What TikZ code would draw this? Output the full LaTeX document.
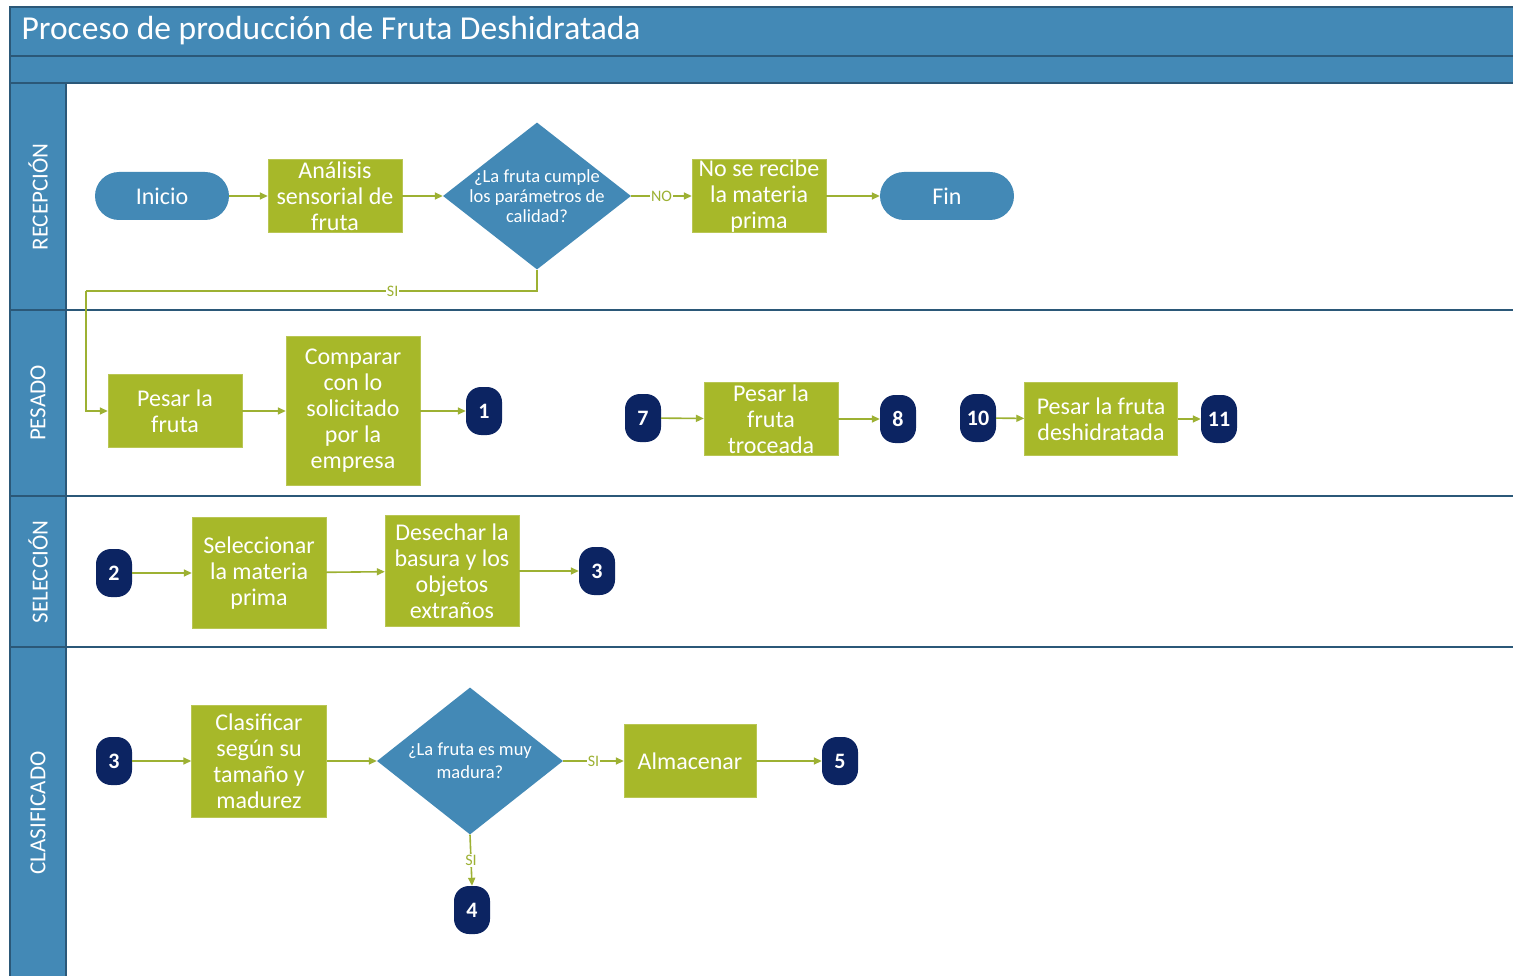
\documentclass[tikz,border=0pt]{standalone}
\usepackage{fontspec}
\setmainfont{Carlito}
\usetikzlibrary{shapes.geometric,arrows.meta,positioning}
\definecolor{hdr}{HTML}{4389B6}
\definecolor{bord}{HTML}{2B5878}
\definecolor{grn}{HTML}{A7B829}
\definecolor{lgrn}{HTML}{9DB133}
\definecolor{navy}{HTML}{0C2462}
\tikzset{
  proc/.style={rectangle, fill=grn, draw=grn!80!white, text=white, align=center, inner sep=0pt,
    font=\fontsize{24}{26}\selectfont},
  term/.style={rectangle, rounded corners=24pt, fill=hdr, text=white, minimum width=134pt, minimum height=48pt,
    inner sep=0pt, font=\fontsize{24}{26}\selectfont},
  dec/.style={diamond, fill=hdr, minimum width=188pt, minimum height=147pt, inner sep=0pt},
  dectext/.style={text=white, align=center, font=\fontsize{18.5}{20}\selectfont},
  offc/.style={rectangle, rounded corners=15pt, fill=navy, text=white, minimum width=36pt, minimum height=48pt,
    inner sep=0pt, font=\bfseries\fontsize{22}{24}\selectfont},
  flow/.style={draw=lgrn, line width=1.6pt, -{Triangle[length=8pt,width=7pt]}},
  line/.style={draw=lgrn, line width=1.6pt},
  lbl/.style={fill=white, text=lgrn, inner sep=1pt, font=\fontsize{16}{16}\selectfont},
  lane/.style={text=white, rotate=90, font=\fontsize{23}{23}\selectfont}
}
\begin{document}
\begin{tikzpicture}[x=1pt,y=-1pt]
\useasboundingbox (0,0) rectangle (1513,976);
\fill[white] (0,0) rectangle (1513,976);
% header bars
\fill[hdr] (10,7) rectangle (1513,83);
\fill[hdr] (10,83) rectangle (66,976);
\draw[bord, line width=1.5pt] (10,56) -- (1513,56);
\draw[bord, line width=2pt] (10,83) -- (1513,83);
\draw[bord, line width=2pt] (10,310) -- (1513,310);
\draw[bord, line width=2pt] (10,496) -- (1513,496);
\draw[bord, line width=2pt] (10,647) -- (1513,647);
\draw[bord, line width=2pt] (66,83) -- (66,976);
\draw[bord, line width=1.5pt] (10,976) -- (10,7) -- (1513,7);
\node[anchor=west, text=white, font=\fontsize{33.5}{33.5}\selectfont] (title) at (18,31) {Proceso de producción de Fruta Deshidratada};
% lane labels
\node[lane] (l1) at (38,197) {RECEPCIÓN};
\node[lane] (l2) at (38,403) {PESADO};
\node[lane] (l3) at (38,572) {SELECCIÓN};
\node[lane] (l4) at (38,813) {CLASIFICADO};
% RECEPCION
\node[term] (inicio) at (162,196) {Inicio};
\node[proc, minimum width=134pt, minimum height=73pt] (anal) at (335,196) {Análisis\\sensorial de\\fruta};
\node[dec] (d1) at (537,196) {};
\node[dectext] (d1t) at (537,196) {¿La fruta cumple\\los parámetros de\\calidad?};
\node[proc, minimum width=134pt, minimum height=73pt] (nosr) at (759,196) {No se recibe\\la materia\\prima};
\node[term] (fin) at (947,196) {Fin};
\coordinate (c1) at (86,291);
% PESADO
\node[proc, minimum width=134pt, minimum height=73pt] (pesar) at (175,411) {Pesar la\\fruta};
\node[proc, minimum width=134pt, minimum height=149pt] (comp) at (353,411) {Comparar\\con lo\\solicitado\\por la\\empresa};
\node[offc] (o1) at (484,411) {1};
\node[offc] (o7) at (643,418) {7};
\node[proc, minimum width=134pt, minimum height=73pt] (ptro) at (771,419) {Pesar la\\fruta\\troceada};
\node[offc] (o8) at (898,419) {8};
\node[offc] (o10) at (978,418) {10};
\node[proc, minimum width=153pt, minimum height=73pt] (pdes) at (1101,419) {Pesar la fruta\\deshidratada};
\node[offc] (o11) at (1219,419) {11};
% SELECCION
\node[offc] (o2) at (114,573) {2};
\node[proc, minimum width=134pt, minimum height=111pt] (sel) at (259,573) {Seleccionar\\la materia\\prima};
\node[proc, minimum width=134pt, minimum height=111pt] (des) at (452,571) {Desechar la\\basura y los\\objetos\\extraños};
\node[offc] (o3a) at (597,571) {3};
% CLASIFICADO
\node[offc] (o3b) at (114,761) {3};
\node[proc, minimum width=135pt, minimum height=112pt] (clas) at (259,761) {Clasificar\\según su\\tamaño y\\madurez};
\node[dec, minimum width=186pt] (d2) at (470,761) {};
\node[dectext, font=\fontsize{18.5}{23}\selectfont] (d2t) at (470,761) {¿La fruta es muy\\madura?};
\node[proc, minimum width=132pt, minimum height=73pt] (alm) at (690,761) {Almacenar};
\node[offc] (o5) at (840,761) {5};
\node[offc] (o4) at (472,910) {4};
% connectors
\draw[flow] (inicio) -- (anal);
\draw[flow] (anal) -- (d1);
\draw[flow] (d1) -- node[lbl]{NO} (nosr);
\draw[flow] (nosr) -- (fin);
\draw[line] (d1.south) |- node[lbl, pos=0.66]{SI} (c1);
\draw[flow] (c1) |- (pesar.west);
\draw[flow] (pesar) -- (comp);
\draw[flow] (comp) -- (o1);
\draw[flow] (o7) -- (ptro);
\draw[flow] (ptro) -- (o8);
\draw[flow] (o10) -- (pdes);
\draw[flow] (pdes) -- (o11);
\draw[flow] (o2) -- (sel);
\draw[flow] (sel) -- (des);
\draw[flow] (des) -- (o3a);
\draw[flow] (o3b) -- (clas);
\draw[flow] (clas) -- (d2);
\draw[flow] (d2) -- node[lbl]{SI} (alm);
\draw[flow] (alm) -- (o5);
\draw[flow] (d2.south) -- node[lbl]{SI} (o4.north);
\end{tikzpicture}
\end{document}
